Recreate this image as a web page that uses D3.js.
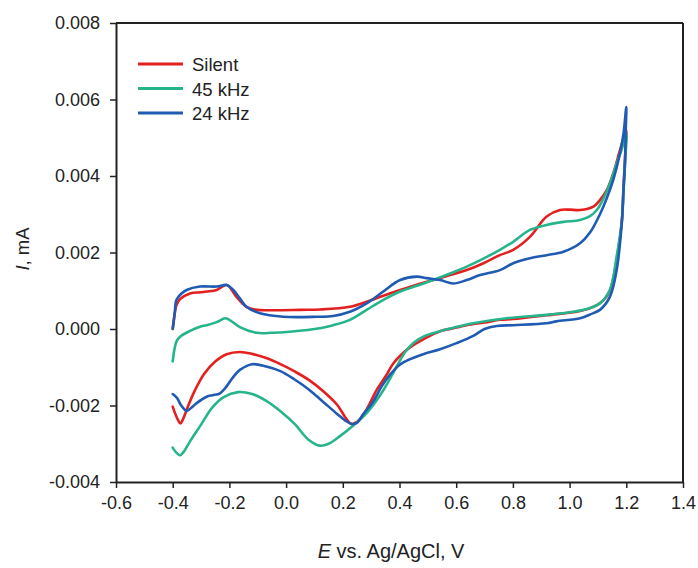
<!DOCTYPE html>
<html>
<head>
<meta charset="utf-8">
<script src="https://cdn.jsdelivr.net/npm/d3@7"></script>
<style>
  html, body { margin: 0; padding: 0; background: #fff; }
  svg { display: block; }
  text { font-family: Arial, "Liberation Sans", sans-serif; fill: #222; }
</style>
</head>
<body>
<svg id="chart" width="698" height="568"></svg>
<script>
// ---------- data ----------
const seriesNames = ["Silent", "45 kHz", "24 kHz"];
const seriesColors = ["#e3201f", "#26b48c", "#1f5bb2"];

const xTicks = [-0.6, -0.4, -0.2, 0.0, 0.2, 0.4, 0.6, 0.8, 1.0, 1.2, 1.4];
const xTickLabels = ["-0.6", "-0.4", "-0.2", "0.0", "0.2", "0.4", "0.6", "0.8", "1.0", "1.2", "1.4"];
const yTicks = [-0.004, -0.002, 0.000, 0.002, 0.004, 0.006, 0.008];
const yTickLabels = ["-0.004", "-0.002", "0.000", "0.002", "0.004", "0.006", "0.008"];

// Silent (anodic sweep then cathodic sweep)
const silentE = [-0.40, -0.393, -0.387, -0.374, -0.339, -0.30, -0.28, -0.245, -0.209, -0.175, -0.14, -0.104, -0.05, 0.05, 0.12, 0.225, 0.284, 0.343, 0.402, 0.461, 0.519, 0.578, 0.637, 0.696, 0.754, 0.801, 0.86, 0.919, 0.966, 1.0, 1.037, 1.084, 1.107, 1.131, 1.154, 1.178, 1.2,
  1.197, 1.19, 1.184, 1.166, 1.142, 1.119, 1.084, 1.037, 0.919, 0.80, 0.754, 0.70, 0.637, 0.59, 0.543, 0.484, 0.437, 0.405, 0.378, 0.35, 0.319, 0.295, 0.272, 0.25, 0.23, 0.21, 0.18, 0.13, 0.08, 0.03, -0.02, -0.07, -0.12, -0.163, -0.21, -0.25, -0.29, -0.32, -0.345, -0.365, -0.373, -0.385, -0.40];
const silentI = [0.0000, 0.0004, 0.00062, 0.00078, 0.00093, 0.00096, 0.00098, 0.00102, 0.00115, 0.00084, 0.00058, 0.0005, 0.00049, 0.0005, 0.00051, 0.00058, 0.00071, 0.00087, 0.00102, 0.00116, 0.00128, 0.00141, 0.00154, 0.00172, 0.00193, 0.00207, 0.00241, 0.00294, 0.00311, 0.00312, 0.00311, 0.0032, 0.00337, 0.00363, 0.00407, 0.00468, 0.0052,
  0.0047, 0.0037, 0.0028, 0.0018, 0.0010, 0.00075, 0.00058, 0.00047, 0.00036, 0.00026, 0.00024, 0.00017, 0.0001, 0.00002, -0.00006, -0.00027, -0.00048, -0.00068, -0.0009, -0.00125, -0.0016, -0.00195, -0.00225, -0.00243, -0.00248, -0.00232, -0.00198, -0.00162, -0.00133, -0.00111, -0.00092, -0.00076, -0.00065, -0.0006, -0.00066, -0.00085, -0.00118, -0.00158, -0.002, -0.00238, -0.00247, -0.00232, -0.00203];

// 45 kHz
const k45E = [-0.40, -0.393, -0.385, -0.374, -0.339, -0.304, -0.28, -0.245, -0.215, -0.20, -0.163, -0.104, -0.05, 0.013, 0.119, 0.166, 0.225, 0.284, 0.343, 0.402, 0.461, 0.519, 0.578, 0.637, 0.696, 0.754, 0.801, 0.86, 0.919, 0.978, 1.037, 1.072, 1.096, 1.119, 1.142, 1.166, 1.184, 1.2,
  1.197, 1.19, 1.184, 1.166, 1.142, 1.107, 1.072, 1.013, 0.919, 0.778, 0.66, 0.60, 0.543, 0.484, 0.45, 0.42, 0.39, 0.343, 0.284, 0.237, 0.19, 0.15, 0.12, 0.08, 0.03, -0.02, -0.07, -0.12, -0.17, -0.22, -0.26, -0.30, -0.34, -0.36, -0.374, -0.385, -0.40];
const k45I = [-0.00085, -0.0005, -0.0003, -0.0002, -0.00005, 0.00006, 0.0001, 0.00018, 0.00028, 0.00024, 0.00005, -0.0001, -0.0001, -0.00007, 0.00002, 0.0001, 0.00024, 0.0005, 0.00076, 0.00098, 0.00113, 0.00128, 0.00145, 0.00163, 0.00184, 0.00207, 0.00228, 0.00259, 0.00272, 0.0028, 0.00285, 0.00295, 0.00311, 0.0034, 0.0038, 0.00433, 0.0047, 0.00512,
  0.0045, 0.0036, 0.0028, 0.0019, 0.00102, 0.00067, 0.00055, 0.00045, 0.00037, 0.00028, 0.00015, 0.00005, -0.00006, -0.0002, -0.00036, -0.0006, -0.00098, -0.0016, -0.0022, -0.00252, -0.0028, -0.003, -0.00305, -0.0029, -0.00248, -0.00215, -0.00188, -0.0017, -0.00165, -0.00178, -0.00205, -0.0025, -0.00295, -0.0032, -0.0033, -0.00325, -0.0031];

// 24 kHz
const k24E = [-0.40, -0.393, -0.387, -0.37, -0.351, -0.304, -0.245, -0.209, -0.186, -0.163, -0.14, -0.092, -0.01, 0.108, 0.166, 0.225, 0.284, 0.343, 0.402, 0.461, 0.496, 0.543, 0.59, 0.637, 0.684, 0.754, 0.801, 0.86, 0.919, 0.978, 1.037, 1.072, 1.107, 1.13, 1.154, 1.178, 1.19, 1.2,
  1.198, 1.196, 1.19, 1.184, 1.166, 1.142, 1.107, 1.072, 1.037, 0.954, 0.919, 0.801, 0.743, 0.70, 0.66, 0.601, 0.543, 0.484, 0.44, 0.40, 0.366, 0.337, 0.307, 0.275, 0.25, 0.235, 0.21, 0.18, 0.13, 0.08, 0.03, -0.02, -0.07, -0.12, -0.163, -0.186, -0.21, -0.233, -0.26, -0.28, -0.316, -0.33, -0.351, -0.37, -0.385, -0.40];
const k24I = [0.0000, 0.0004, 0.00076, 0.00092, 0.00102, 0.00111, 0.00111, 0.00115, 0.00102, 0.0008, 0.00058, 0.00041, 0.00032, 0.00032, 0.00034, 0.00045, 0.00067, 0.00098, 0.00128, 0.00137, 0.00133, 0.00128, 0.00119, 0.00128, 0.00141, 0.00154, 0.00172, 0.00185, 0.00193, 0.00202, 0.00224, 0.00252, 0.0030, 0.0034, 0.0039, 0.0046, 0.0051, 0.0058,
  0.0052, 0.0045, 0.0036, 0.00276, 0.00154, 0.00084, 0.0005, 0.00038, 0.00028, 0.0002, 0.00015, 0.0001, 0.00008, 0.0, -0.00018, -0.00037, -0.00053, -0.00066, -0.00078, -0.00094, -0.0012, -0.0015, -0.0019, -0.0022, -0.00245, -0.00249, -0.0024, -0.00222, -0.0019, -0.00158, -0.00132, -0.0011, -0.00098, -0.00092, -0.00107, -0.00125, -0.0015, -0.00168, -0.00173, -0.00177, -0.00194, -0.00203, -0.00214, -0.002, -0.0018, -0.0017];

const seriesE = [silentE, k45E, k24E];
const seriesI = [silentI, k45I, k24I];

// ---------- layout ----------
const svg = d3.select("#chart");
const W = 698, H = 568;
const margin = { left: 116, top: 23, right: W - 683, bottom: H - 482 };
const x = d3.scaleLinear().domain([-0.6, 1.4]).range([margin.left, W - margin.right]);
const y = d3.scaleLinear().domain([-0.004, 0.008]).range([H - margin.bottom, margin.top]);

// curves
const line = d3.line()
  .x(d => x(d[0]))
  .y(d => y(d[1]))
  .curve(d3.curveCatmullRom.alpha(0.5));

seriesNames.forEach((name, k) => {
  const pts = seriesE[k].map((e, i) => [e, seriesI[k][i]]);
  svg.append("path")
    .datum(pts)
    .attr("d", line)
    .attr("fill", "none")
    .attr("stroke", seriesColors[k])
    .attr("stroke-width", 2.6)
    .attr("stroke-linejoin", "round")
    .attr("stroke-linecap", "round");
});

// frame
const axisColor = "#222";
svg.append("line").attr("x1", x(-0.6)).attr("x2", x(1.4)).attr("y1", y(0.008)).attr("y2", y(0.008))
  .attr("stroke", axisColor).attr("stroke-width", 2);
svg.append("line").attr("x1", x(1.4)).attr("x2", x(1.4)).attr("y1", y(0.008)).attr("y2", y(-0.004))
  .attr("stroke", axisColor).attr("stroke-width", 2);

// axes
const xAxis = d3.axisBottom(x).tickValues(xTicks)
  .tickFormat((d, i) => xTickLabels[i]).tickSizeOuter(0).tickSizeInner(6).tickPadding(8);
const gx = svg.append("g").attr("transform", `translate(0,${y(-0.004)})`).call(xAxis);

const yAxis = d3.axisLeft(y).tickValues(yTicks)
  .tickFormat((d, i) => yTickLabels[i]).tickSizeOuter(0).tickSizeInner(6).tickPadding(10);
const gy = svg.append("g").attr("transform", `translate(${x(-0.6)},0)`).call(yAxis);

[gx, gy].forEach(g => {
  g.select(".domain").attr("stroke", axisColor).attr("stroke-width", 2);
  g.selectAll(".tick line").attr("stroke", axisColor).attr("stroke-width", 1.5);
  g.selectAll(".tick text").attr("font-size", 18).attr("fill", "#222")
    .attr("font-family", "Arial, 'Liberation Sans', sans-serif");
});

// axis titles
const xt = svg.append("text").attr("x", 391).attr("y", 558).attr("text-anchor", "middle").attr("font-size", 20);
xt.append("tspan").attr("font-style", "italic").text("E");
xt.append("tspan").text(" vs. Ag/AgCl, V");

const yt = svg.append("text").attr("transform", "translate(29,249) rotate(-90)")
  .attr("text-anchor", "middle").attr("font-size", 18.5);
yt.append("tspan").attr("font-style", "italic").text("I");
yt.append("tspan").text(", mA");

// legend
const legY = [64, 88.5, 113];
seriesNames.forEach((name, k) => {
  svg.append("line").attr("x1", 138).attr("x2", 183).attr("y1", legY[k]).attr("y2", legY[k])
    .attr("stroke", seriesColors[k]).attr("stroke-width", 3);
  svg.append("text").attr("x", 192).attr("y", legY[k] + 7).attr("font-size", 18.5).text(name);
});
</script>
</body>
</html>
